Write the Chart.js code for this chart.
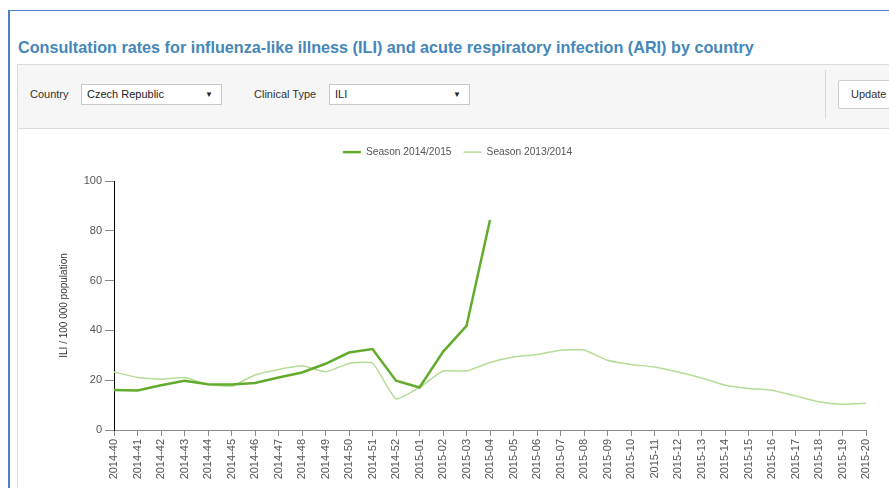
<!DOCTYPE html>
<html>
<head>
<meta charset="utf-8">
<script src="https://cdn.jsdelivr.net/npm/chart.js@4/dist/chart.umd.min.js"></script>
<style>
  body { margin: 0; background: #fff; font-family: 'Liberation Sans', Arial, sans-serif; overflow: hidden; }
  #frame { position: absolute; left: 8px; top: 10px; width: 900px; height: 500px; border-left: 2px solid #4d7fc2; border-top: 1px solid #4d7fc2; }
  #title { position: absolute; left: 18px; top: 38px; font-size: 16.2px; font-weight: bold; color: #4587b8; white-space: nowrap; }
  #panel { position: absolute; left: 17px; top: 64px; width: 900px; height: 63px; background: #f6f6f6; border: 1px solid #dcdcdc; }
  .lbl { position: absolute; font-size: 11px; color: #333; top: 88px; }
  .sel { position: absolute; top: 84px; width: 139px; height: 19px; background: #fff; border: 1px solid #c8c8c8; font-size: 11px; color: #222; line-height: 19px; }
  .sel span { position: absolute; left: 5px; }
  .sel i { position: absolute; right: 8px; font-style: normal; font-size: 8px; }
  #sep { position: absolute; left: 825px; top: 70px; width: 1px; height: 49px; background: #d8d8d8; }
  #update { position: absolute; left: 838px; top: 80px; width: 70px; height: 27px; background: #fff; border: 1px solid #ccc; border-radius: 2px; font-size: 11px; color: #333; line-height: 27px; }
  #update span { position: absolute; left: 12px; }
  #chartBox { position: absolute; left: 17px; top: 128px; width: 872px; height: 360px; border-left: 1px solid #dcdcdc; }
  #chart { position: absolute; left: 1px; top: 1px; }
</style>
</head>
<body>
<div id="frame"></div>
<div id="title">Consultation rates for influenza-like illness (ILI) and acute respiratory infection (ARI) by country</div>
<div id="panel"></div>
<div class="lbl" style="left:30px">Country</div>
<div class="sel" style="left:81px"><span>Czech Republic</span><i>&#9660;</i></div>
<div class="lbl" style="left:254px">Clinical Type</div>
<div class="sel" style="left:329px"><span>ILI</span><i>&#9660;</i></div>
<div id="sep"></div>
<div id="update"><span>Update</span></div>
<div id="chartBox"><canvas id="chart" width="871" height="359"></canvas></div>
<script>
// Week labels (2014-40 .. 2015-20)
const weeks = [
  '2014-40', '2014-41', '2014-42', '2014-43', '2014-44', '2014-45', '2014-46',
  '2014-47', '2014-48', '2014-49', '2014-50', '2014-51', '2014-52', '2015-01',
  '2015-02', '2015-03', '2015-04', '2015-05', '2015-06', '2015-07', '2015-08',
  '2015-09', '2015-10', '2015-11', '2015-12', '2015-13', '2015-14', '2015-15',
  '2015-16', '2015-17', '2015-18', '2015-19', '2015-20'
];

// ILI per 100 000, current season (stops at 2015-04)
const season1415 = [16.1, 15.9, 18.0, 19.8, 18.4, 18.3, 18.9, 21.1, 23.1, 26.6,
  31.1, 32.5, 19.8, 17.1, 31.4, 41.8, 84.3];

// ILI per 100 000, previous season
const season1314 = [23.3, 21.1, 20.4, 21.1, 18.3, 17.6, 22.1, 24.3, 25.8, 23.4,
  26.7, 26.9, 12.5, 17.1, 23.7, 23.7, 27.1, 29.3, 30.3, 32.0, 32.1, 28.0, 26.3,
  25.3, 23.3, 20.9, 18.0, 16.7, 16.0, 13.7, 11.3, 10.3, 10.7];

const yTicks = { min: 0, max: 100, step: 20 };

const font = { family: "'Liberation Sans', Arial, sans-serif", size: 11 };

// makes the legend take a fixed block of space above the plot
const legendSpace = {
  id: 'legendSpace',
  beforeInit(chart) {
    const fit = chart.legend.fit;
    chart.legend.fit = function () {
      fit.call(this);
      this.height = 46;
    };
  }
};

const ctx = document.getElementById('chart').getContext('2d');
new Chart(ctx, {
  type: 'line',
  data: {
    labels: weeks,
    datasets: [
      {
        label: 'Season 2014/2015',
        data: season1415,
        borderColor: '#62ab2c',
        backgroundColor: '#62ab2c',
        borderWidth: 2.5,
        pointRadius: 0,
        tension: 0
      },
      {
        label: 'Season 2013/2014',
        data: season1314,
        borderColor: '#b6dc97',
        backgroundColor: '#b6dc97',
        borderWidth: 1.5,
        pointRadius: 0,
        tension: 0.15
      }
    ]
  },
  options: {
    responsive: false,
    animation: false,
    devicePixelRatio: 1,
    layout: { padding: { top: 6, right: 24, left: 30, bottom: 0 } },
    plugins: {
      tooltip: { enabled: false },
      legend: {
        position: 'top',
        labels: {
          usePointStyle: true,
          pointStyle: 'line',
          pointStyleWidth: 18,
          padding: 12,
          color: '#555',
          font: { family: font.family, size: 10.2 }
        }
      }
    },
    scales: {
      x: {
        afterFit(s) { s.height = 58; },
        grid: { drawOnChartArea: false, drawTicks: true, tickLength: 6, tickColor: '#8a8a8a' },
        border: { color: '#8a8a8a', width: 1 },
        ticks: { autoSkip: false, maxRotation: 90, minRotation: 90, padding: 3, color: '#555', font: font }
      },
      y: {
        min: yTicks.min,
        max: yTicks.max,
        afterFit(s) { s.width = 65; },
        grid: { drawOnChartArea: false, drawTicks: true, tickLength: 9, tickColor: '#8a8a8a' },
        border: { color: '#000', width: 1 },
        ticks: { stepSize: yTicks.step, padding: 3, color: '#555', font: font },
        title: {
          display: true,
          text: 'ILI / 100 000 population',
          color: '#333',
          font: { family: font.family, size: 10 },
          padding: { top: 9, bottom: 0 }
        }
      }
    }
  },
  plugins: [legendSpace]
});
</script>
</body>
</html>
